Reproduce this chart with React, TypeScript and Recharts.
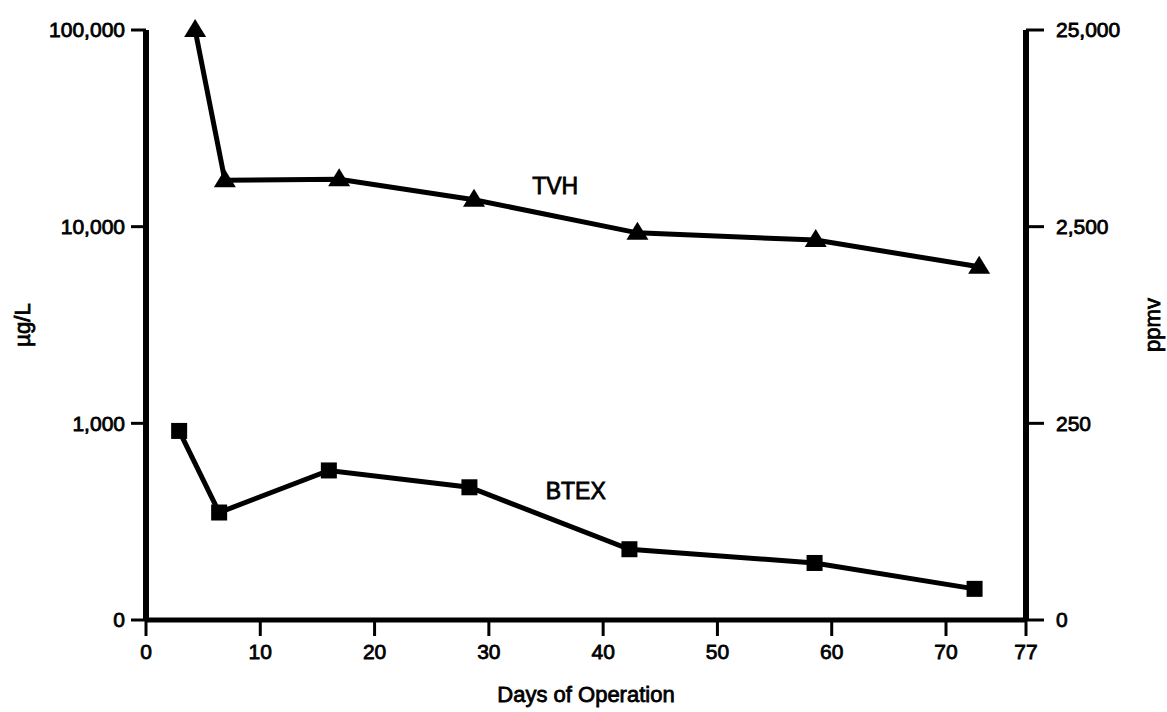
import { LineChart, Line, XAxis, YAxis, ReferenceDot } from 'recharts';

// TVH and BTEX readings (µg/L) against days of operation
const tvhDays = [4.3, 6.9, 16.9, 28.7, 43.0, 58.6, 72.9];
const tvhValues = [100000, 17200, 17400, 13700, 9300, 8550, 6250];
const btexDays = [2.9, 6.4, 16.0, 28.3, 42.3, 58.5, 72.5];
const btexValues = [915, 352, 576, 473, 229, 195, 144];

const dayTicks = [0, 10, 20, 30, 40, 50, 60, 70, 77];
const ugTicks = [100, 1000, 10000, 100000];
const ppmvTicks = [25, 250, 2500, 25000];

// the right axis reads the same curves in ppmv (1 ppmv ~ 4 µg/L on this chart)
const UG_PER_PPMV = 4;

const tvh = tvhDays.map((day, i) => ({ day, value: tvhValues[i] }));
const btex = btexDays.map((day, i) => ({ day, value: btexValues[i] }));
const tvhPpmv = tvh.map((d) => ({ day: d.day, value: d.value / UG_PER_PPMV }));

const FONT = '"Liberation Sans", Arial, Helvetica, sans-serif';
const tickStyle = { fill: '#000', fontSize: 21, fontFamily: FONT, stroke: '#000', strokeWidth: 0.8 };

const fmtUg = (v: number) => (v === 100 ? '0' : v.toLocaleString('en-US'));
const fmtPpmv = (v: number) => (v === 25 ? '0' : v.toLocaleString('en-US'));

const TriangleDot = (props: any) => {
  const { cx, cy, index } = props;
  if (cx == null || cy == null) return <g key={`t${index}`} />;
  return (
    <polygon
      key={`t${index}`}
      points={`${cx},${cy - 11} ${cx - 11},${cy + 7} ${cx + 11},${cy + 7}`}
      fill="#000"
    />
  );
};

const SquareDot = (props: any) => {
  const { cx, cy, index } = props;
  if (cx == null || cy == null) return <g key={`s${index}`} />;
  return <rect key={`s${index}`} x={cx - 8} y={cy - 8} width={16} height={16} fill="#000" />;
};

const yTitle = (text: string, x: number) => (props: any) => {
  const vb = props.viewBox || {};
  const cy = (vb.y ?? 30) + (vb.height ?? 590) / 2;
  return (
    <text
      x={x}
      y={cy}
      transform={`rotate(-90, ${x}, ${cy})`}
      textAnchor="middle"
      dominantBaseline="central"
      fill="#000"
      stroke="#000"
      strokeWidth={0.8}
      fontSize={22}
      fontFamily={FONT}
    >
      {text}
    </text>
  );
};

const seriesLabel = (value: string) => ({
  value,
  position: 'center' as const,
  fill: '#000',
  stroke: '#000',
  strokeWidth: 0.8,
  fontSize: 23,
  fontFamily: FONT,
});

export default function App() {
  return (
    <div style={{ position: 'absolute', left: 0, top: 0, background: '#fff' }}>
      <LineChart width={1167} height={712} margin={{ top: 30, right: 0, bottom: 0, left: 0 }}>
        <XAxis
          dataKey="day"
          type="number"
          domain={[0, 77]}
          ticks={dayTicks}
          interval={0}
          height={92}
          axisLine={{ stroke: '#000', strokeWidth: 5 }}
          tickLine={{ stroke: '#000', strokeWidth: 3 }}
          tickSize={16}
          tickMargin={8}
          tick={tickStyle}
          label={{
            value: 'Days of Operation',
            position: 'insideBottom',
            offset: 10,
            fill: '#000',
            stroke: '#000',
            strokeWidth: 0.8,
            fontSize: 22,
            fontFamily: FONT,
          }}
        />
        <YAxis
          yAxisId="left"
          type="number"
          scale="log"
          domain={[100, 100000]}
          ticks={ugTicks}
          interval={0}
          width={146}
          axisLine={{ stroke: '#000', strokeWidth: 6 }}
          tickLine={{ stroke: '#000', strokeWidth: 3 }}
          tickSize={15}
          tickMargin={6}
          tick={tickStyle}
          tickFormatter={fmtUg}
          label={{ content: yTitle('µg/L', 22) }}
        />
        <YAxis
          yAxisId="right"
          orientation="right"
          type="number"
          scale="log"
          domain={[25, 25000]}
          ticks={ppmvTicks}
          interval={0}
          width={141}
          axisLine={{ stroke: '#000', strokeWidth: 6 }}
          tickLine={{ stroke: '#000', strokeWidth: 3 }}
          tickSize={18}
          tickMargin={12}
          tick={tickStyle}
          tickFormatter={fmtPpmv}
          label={{ content: yTitle('ppmv', 1152) }}
        />
        <Line
          yAxisId="right"
          data={tvhPpmv}
          dataKey="value"
          stroke="none"
          dot={false}
          activeDot={false}
          legendType="none"
          isAnimationActive={false}
        />
        <Line
          yAxisId="left"
          data={tvh}
          dataKey="value"
          type="linear"
          stroke="#000"
          strokeWidth={5}
          dot={TriangleDot}
          activeDot={false}
          isAnimationActive={false}
        />
        <Line
          yAxisId="left"
          data={btex}
          dataKey="value"
          type="linear"
          stroke="#000"
          strokeWidth={5}
          dot={SquareDot}
          activeDot={false}
          isAnimationActive={false}
        />
        <ReferenceDot yAxisId="left" x={35.8} y={16100} r={0} fill="none" stroke="none" label={seriesLabel('TVH')} />
        <ReferenceDot yAxisId="left" x={37.6} y={454} r={0} fill="none" stroke="none" label={seriesLabel('BTEX')} />
      </LineChart>
    </div>
  );
}
